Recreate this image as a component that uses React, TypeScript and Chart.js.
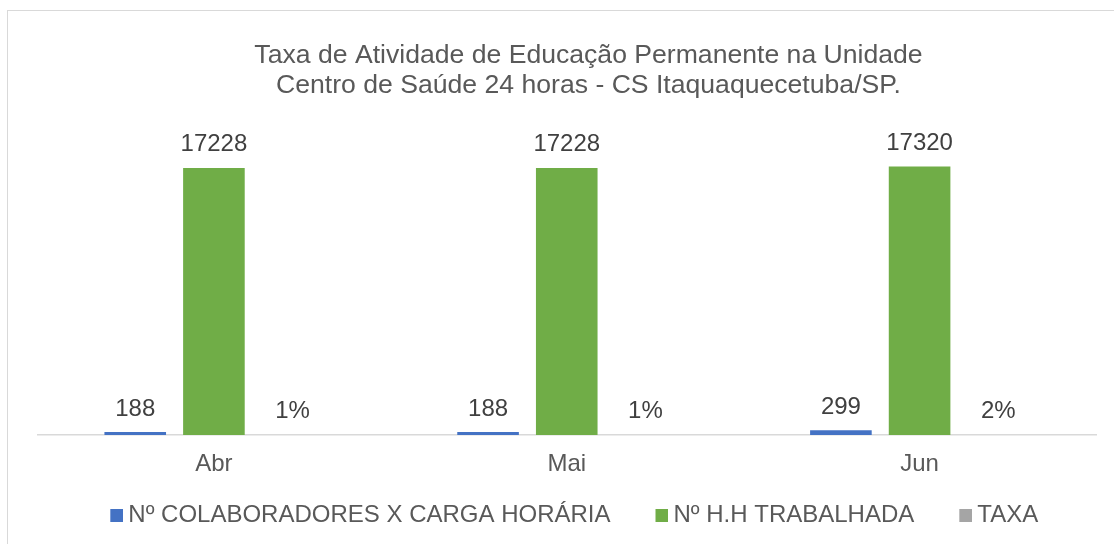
import React, { useEffect, useRef } from "react";
import { Chart, registerables } from "chart.js";

Chart.register(...registerables);

const titleLines = [
  "Taxa de Atividade de Educação Permanente na Unidade",
  "Centro de Saúde 24 horas - CS Itaquaquecetuba/SP.",
];
const categories = ["Abr", "Mai", "Jun"];
const seriesNames = ["Nº COLABORADORES X CARGA HORÁRIA", "Nº H.H TRABALHADA", "TAXA"];
const colaboradores = [188, 188, 299];
const horasTrabalhadas = [17228, 17228, 17320];
const taxa = [0.011, 0.011, 0.017];
const seriesColors = ["#4472C4", "#70AD47", "#A5A5A5"];
const yMax = 20000;

const FONT = "'Liberation Sans', Arial, sans-serif";

// legend swatch: 13px square placed inside a wider transparent image
function makeLegendSwatch(color: string) {
  const c = document.createElement("canvas");
  c.width = 35;
  c.height = 13;
  const g = c.getContext("2d")!;
  g.fillStyle = color;
  g.fillRect(22, 0, 13, 13);
  return c;
}

const framePlugin = {
  id: "frame",
  beforeDraw(chart: any) {
    const { ctx, width, height } = chart;
    ctx.save();
    ctx.fillStyle = "#ffffff";
    ctx.fillRect(0, 0, width, height);
    ctx.strokeStyle = "#d9d9d9";
    ctx.lineWidth = 1;
    ctx.strokeRect(7.5, 10.5, width + 20, height + 20);
    ctx.restore();
  },
};

const titlePlugin = {
  id: "customTitle",
  afterDraw(chart: any) {
    const { ctx } = chart;
    ctx.save();
    ctx.font = `26.6px ${FONT}`;
    ctx.fillStyle = "#595959";
    ctx.textAlign = "center";
    ctx.textBaseline = "alphabetic";
    titleLines.forEach((line, i) => {
      ctx.fillText(line, 588.5, 63 + i * 30);
    });
    ctx.restore();
  },
};

const labelPlugin = {
  id: "valueLabels",
  afterDatasetsDraw(chart: any) {
    const { ctx } = chart;
    ctx.save();
    ctx.font = `24px ${FONT}`;
    ctx.fillStyle = "#404040";
    ctx.textAlign = "center";
    ctx.textBaseline = "alphabetic";
    chart.data.datasets.forEach((ds: any, i: number) => {
      const meta = chart.getDatasetMeta(i);
      meta.data.forEach((bar: any, j: number) => {
        const v = ds.data[j];
        const text = i === 2 ? `${Math.round(v * 100)}%` : String(v);
        ctx.fillText(text, bar.x, bar.y - 16.5);
      });
    });
    ctx.restore();
  },
};

export default function App() {
  const ref = useRef<HTMLCanvasElement>(null);
  useEffect(() => {
    document.body.style.margin = "0";
    Chart.defaults.font.family = FONT;
    const values = [colaboradores, horasTrabalhadas, taxa];
    const swatches = seriesColors.map(makeLegendSwatch);
    const chart = new Chart(ref.current!, {
      type: "bar",
      data: {
        labels: categories,
        datasets: seriesNames.map((name, i) => ({
          label: name,
          data: values[i],
          backgroundColor: seriesColors[i],
          borderWidth: 0,
          categoryPercentage: 0.669,
          barPercentage: 0.783,
        })),
      },
      options: {
        animation: false,
        responsive: false,
        layout: { padding: { left: 37.5, right: 18, top: 125, bottom: 6.5 } },
        plugins: {
          title: { display: false },
          tooltip: { enabled: false },
          legend: {
            position: "bottom",
            labels: {
              usePointStyle: true,
              pointStyleWidth: 21,
              boxHeight: 13,
              padding: 30,
              color: "#595959",
              font: { size: 24, family: FONT },
              generateLabels: (ch: any) =>
                Chart.defaults.plugins.legend.labels
                  .generateLabels(ch)
                  .map((it: any, i: number) => ({ ...it, pointStyle: swatches[i], lineWidth: 0 })),
            },
          },
        },
        scales: {
          x: {
            grid: { display: true, drawOnChartArea: false, drawTicks: false },
            border: { display: true, color: "#d9d9d9", width: 1.5 },
            ticks: { color: "#595959", font: { size: 24, family: FONT }, padding: 15 },
            afterFit: (scale: any) => {
              scale.height = 38.5;
            },
          },
          y: { display: false, min: 0, max: yMax },
        },
      } as any,
      plugins: [framePlugin, titlePlugin, labelPlugin],
    });
    return () => chart.destroy();
  }, []);
  return (
    <div style={{ width: 1114, height: 544 }}>
      <canvas ref={ref} width={1114} height={544} style={{ display: "block" }} />
    </div>
  );
}
